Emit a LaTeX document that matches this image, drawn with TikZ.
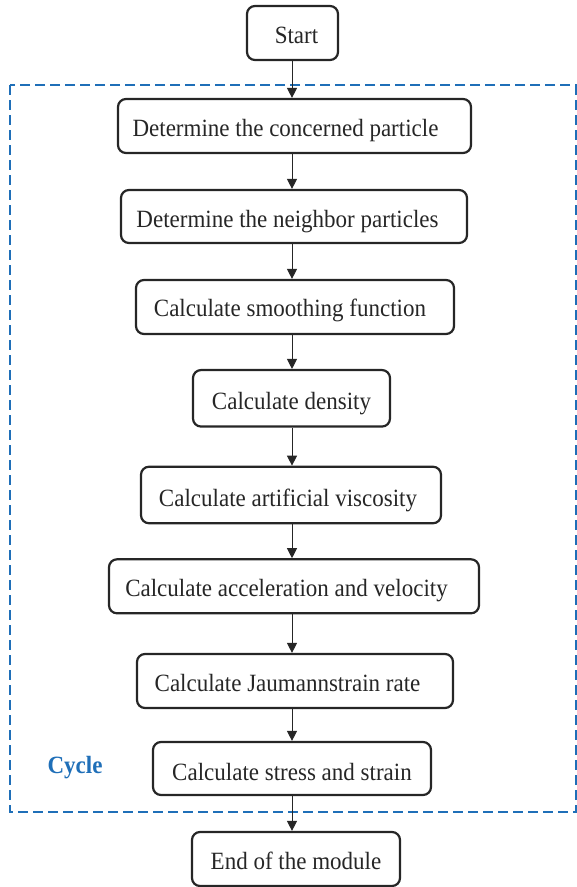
\documentclass[tikz,border=0pt]{standalone}
\usepackage{graphicx}
\usepackage{fontspec}
\setmainfont{Liberation Serif}
\usetikzlibrary{arrows.meta}
\definecolor{cycleblue}{HTML}{1F6FB8}
% shift a box label sideways by #1 (in pt) inside its box
\newcommand{\nudge}[1]{\hspace*{\dimexpr 2\dimexpr #1pt\relax\relax}}
% slightly tall lettering
\newcommand{\tall}[1]{\scalebox{1}[1.08]{#1}}
\tikzset{
  stepbox/.style={draw=black!85, line width=2.2pt, rounded corners=8pt,
    inner sep=0pt, align=center, font=\fontsize{23}{27}\selectfont, text=black!85,
    text depth=0pt},
  flow/.style={draw=black!85, line width=1pt, -{Triangle[length=10pt,width=10pt]}},
  cycleframe/.style={draw=cycleblue, line width=2pt, dash pattern=on 10pt off 5pt},
}
\begin{document}
\begin{tikzpicture}[x=1pt,y=-1pt]
\useasboundingbox (0,0) rectangle (577,887);
% loop frame
\draw[cycleframe] (10,85) rectangle (575.5,812);
\node[font=\fontsize{23}{27}\selectfont\bfseries, text=cycleblue] (cyc) at (75,768) {\tall{Cycle}};
% steps (text height sets where the baseline sits in each box)
\node[stepbox, minimum width=91pt, minimum height=54pt, text height=20pt] (start) at (292.5,33) {\nudge{4}\tall{Start}};
\node[stepbox, minimum width=353pt, minimum height=54pt, text height=20.6pt] (s1) at (294.5,126) {\nudge{-9}\tall{Determine the concerned particle}};
\node[stepbox, minimum width=346pt, minimum height=53pt, text height=21pt] (s2) at (294,216.5) {\nudge{-6.5}\tall{Determine the neighbor particles}};
\node[stepbox, minimum width=318pt, minimum height=54pt, text height=19pt] (s3) at (295,307) {\nudge{-5}\tall{Calculate smoothing function}};
\node[stepbox, minimum width=197pt, minimum height=56.5pt, text height=22.6pt] (s4) at (291.5,398.3) {\tall{Calculate density}};
\node[stepbox, minimum width=300pt, minimum height=56.5pt, text height=22pt] (s5) at (291,495) {\nudge{-3}\tall{Calculate artificial viscosity}};
\node[stepbox, minimum width=370pt, minimum height=54pt, text height=20pt] (s6) at (294,586.3) {\nudge{-7.5}\tall{Calculate acceleration and velocity}};
\node[stepbox, minimum width=316pt, minimum height=54pt, text height=20.6pt] (s7) at (295,681) {\nudge{-7.5}\tall{Calculate Jaumannstrain rate}};
\node[stepbox, minimum width=278pt, minimum height=53pt, text height=24pt] (s8) at (292,768.5) {\tall{Calculate stress and strain}};
\node[stepbox, minimum width=208pt, minimum height=54pt, text height=20pt] (end) at (296,859) {\tall{End of the module}};
% connectors along one vertical line
\coordinate (ax) at (292,0);
\foreach \a/\b in {start/s1, s1/s2, s2/s3, s3/s4, s4/s5, s5/s6, s6/s7, s7/s8, s8/end}
  \draw[flow] (\a.south -| ax) -- (\b.north -| ax);
\end{tikzpicture}
\end{document}
